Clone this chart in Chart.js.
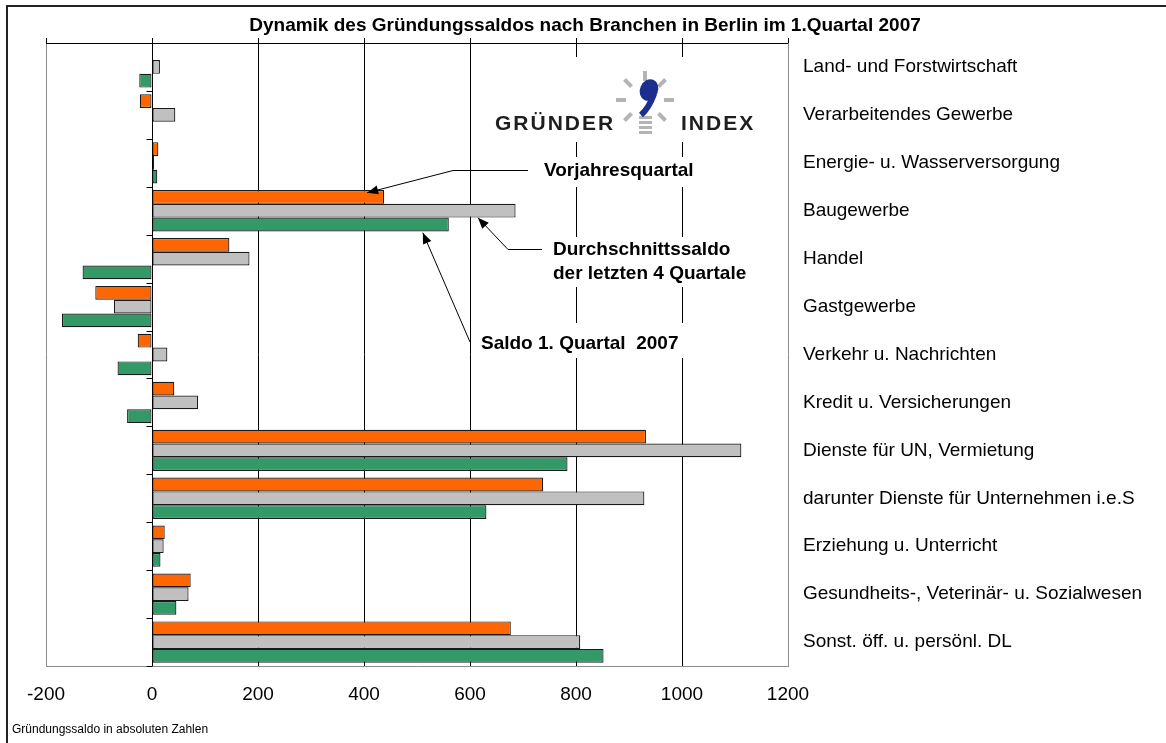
<!DOCTYPE html>
<html>
<head>
<meta charset="utf-8">
<script src="https://cdn.jsdelivr.net/npm/chart.js@4.4.0/dist/chart.umd.min.js"></script>
<style>
  html, body { margin: 0; padding: 0; background: #fff; }
  #wrap { width: 1166px; height: 743px; }
</style>
</head>
<body>
<div id="wrap"><canvas id="chart" width="1166" height="743"></canvas></div>
<script>
// categories (Branchen), top to bottom
const categories = [
    'Land- und Forstwirtschaft',
    'Verarbeitendes Gewerbe',
    'Energie- u. Wasserversorgung',
    'Baugewerbe',
    'Handel',
    'Gastgewerbe',
    'Verkehr u. Nachrichten',
    'Kredit u. Versicherungen',
    'Dienste für UN, Vermietung',
    'darunter Dienste für Unternehmen i.e.S',
    'Erziehung u. Unterricht',
    'Gesundheits-, Veterinär- u. Sozialwesen',
    'Sonst. öff. u. persönl. DL'
];

// values
const vorjahresquartal = [2, -23, 12, 438, 146, -107, -27, 42, 932, 738, 24, 73, 677];
const durchschnitt     = [15, 44, 4, 686, 184, -72, 29, 87, 1112, 929, 22, 69, 808];
const saldo2007        = [-24, 2, 10, 560, -131, -170, -65, -47, 784, 631, 16, 46, 852];

const xMin = -200;
const xMax = 1200;
const xStep = 200;

const titleText = 'Dynamik des Gründungssaldos nach Branchen in Berlin im 1.Quartal 2007';
const FONT = '"Liberation Sans", Arial, sans-serif';

function arrow(ctx, pts) {
    // polyline ending in a filled arrow head at the last point
    ctx.beginPath();
    ctx.moveTo(pts[0][0], pts[0][1]);
    for (let i = 1; i < pts.length; i++) ctx.lineTo(pts[i][0], pts[i][1]);
    ctx.stroke();
    const a = pts[pts.length - 2], b = pts[pts.length - 1];
    const ang = Math.atan2(b[1] - a[1], b[0] - a[0]);
    const len = 11, w = 4.5;
    ctx.beginPath();
    ctx.moveTo(b[0], b[1]);
    ctx.lineTo(b[0] - len * Math.cos(ang) + w * Math.sin(ang), b[1] - len * Math.sin(ang) - w * Math.cos(ang));
    ctx.lineTo(b[0] - len * Math.cos(ang) - w * Math.sin(ang), b[1] - len * Math.sin(ang) + w * Math.cos(ang));
    ctx.closePath();
    ctx.fill();
}

const decoPlugin = {
    id: 'deco',
    beforeDraw(chart) {
        const ctx = chart.ctx;
        ctx.save();
        ctx.fillStyle = '#fff';
        ctx.fillRect(0, 0, chart.width, chart.height);
        ctx.restore();
    },
    beforeDatasetsDraw(chart) {
        // white boxes of logo and labels hide the grid lines
        const ctx = chart.ctx;
        ctx.save();
        ctx.fillStyle = '#fff';
        ctx.fillRect(485, 57, 285, 85);
        ctx.fillRect(535, 157, 172, 30);
        ctx.fillRect(545, 237, 214, 50);
        ctx.fillRect(475, 323, 222, 35);
        ctx.restore();
    },
    afterDatasetsDraw(chart) {
        const ctx = chart.ctx;
        const area = chart.chartArea;
        const xs = chart.scales.x;
        const ys = chart.scales.y;
        const x0 = xs.getPixelForValue(0);
        ctx.save();

        // title
        ctx.fillStyle = '#000';
        ctx.font = 'bold 19px ' + FONT;
        ctx.textAlign = 'center';
        ctx.textBaseline = 'middle';
        ctx.fillText(titleText, 585, 26);

        // top axis line with small ticks
        ctx.strokeStyle = '#000';
        ctx.lineWidth = 1;
        ctx.beginPath();
        ctx.moveTo(area.left, area.top + 0.5);
        ctx.lineTo(area.right, area.top + 0.5);
        for (let v = xMin; v <= xMax; v += xStep) {
            const px = Math.round(xs.getPixelForValue(v)) + 0.5;
            ctx.moveTo(px, area.top - 5);
            ctx.lineTo(px, area.top);
        }
        ctx.stroke();

        // category axis at zero with tick marks between groups
        ctx.beginPath();
        const zx = Math.round(x0) + 0.5;
        ctx.moveTo(zx, area.top);
        ctx.lineTo(zx, area.bottom);
        for (let i = 0; i <= categories.length; i++) {
            const py = Math.round(ys.getPixelForValue(i - 0.5)) + 0.5;
            ctx.moveTo(zx - 6, py);
            ctx.lineTo(zx, py);
        }
        ctx.stroke();

        // logo
        ctx.textAlign = 'left';
        ctx.fillStyle = '#1e1e1e';
        ctx.font = 'bold 21px ' + FONT;
        ctx.letterSpacing = '2px';
        ctx.textBaseline = 'alphabetic';
        ctx.fillText('GRÜNDER', 495, 130);
        ctx.fillText('INDEX', 681, 130);
        ctx.letterSpacing = '0px';
        const cx = 645, cy = 100;
        ctx.strokeStyle = '#b4b4b4';
        ctx.lineWidth = 4;
        [-90, -135, -45, 180, 0, 135, 45].forEach(function (d) {
            const r = d * Math.PI / 180;
            ctx.beginPath();
            ctx.moveTo(cx + 19 * Math.cos(r), cy + 19 * Math.sin(r));
            ctx.lineTo(cx + 29 * Math.cos(r), cy + 29 * Math.sin(r));
            ctx.stroke();
        });
        ctx.fillStyle = '#b4b4b4';
        for (let k = 0; k < 4; k++) ctx.fillRect(639, 116 + k * 5, 13, 3);
        ctx.fillStyle = '#1c2f8f';
        ctx.beginPath();
        ctx.ellipse(649, 90, 9, 11, 0.4, 0, Math.PI * 2);
        ctx.fill();
        ctx.strokeStyle = '#1c2f8f';
        ctx.lineWidth = 6;
        ctx.beginPath();
        ctx.moveTo(654, 94);
        ctx.quadraticCurveTo(649, 108, 641, 115);
        ctx.stroke();

        // annotations
        ctx.fillStyle = '#000';
        ctx.strokeStyle = '#000';
        ctx.lineWidth = 1;
        ctx.font = 'bold 19px ' + FONT;
        ctx.textBaseline = 'middle';
        ctx.fillText('Vorjahresquartal', 544, 171);
        ctx.fillText('Durchschnittssaldo', 553, 250);
        ctx.fillText('der letzten 4 Quartale', 553, 274);
        ctx.fillText('Saldo 1. Quartal  2007', 481, 344);

        const yBau = ys.getPixelForValue(3);
        arrow(ctx, [[528, 170.5], [453, 170.5], [xs.getPixelForValue(406), yBau - 18]]);
        arrow(ctx, [[542, 249.5], [508, 249.5], [xs.getPixelForValue(615), yBau + 7]]);
        arrow(ctx, [[470, 342], [xs.getPixelForValue(511), yBau + 22]]);

        // outer frame
        ctx.lineWidth = 2;
        ctx.strokeStyle = '#222';
        ctx.strokeRect(7, 6, 1300, 900);

        // footer
        ctx.font = '12px ' + FONT;
        ctx.textBaseline = 'alphabetic';
        ctx.fillText('Gründungssaldo in absoluten Zahlen', 12, 733);
        ctx.restore();
    }
};

const ctx = document.getElementById('chart').getContext('2d');
const chart = new Chart(ctx, {
    type: 'bar',
    data: {
        labels: categories,
        datasets: [{
            label: 'Vorjahresquartal',
            data: vorjahresquartal,
            backgroundColor: '#FF6600'
        }, {
            label: 'Durchschnittssaldo der letzten 4 Quartale',
            data: durchschnitt,
            backgroundColor: '#C0C0C0'
        }, {
            label: 'Saldo 1. Quartal 2007',
            data: saldo2007,
            backgroundColor: '#339966'
        }]
    },
    options: {
        indexAxis: 'y',
        responsive: false,
        animation: false,
        datasets: {
            bar: {
                borderColor: '#1a1a1a',
                borderWidth: 1.2,
                borderSkipped: false,
                categoryPercentage: 0.862,
                barPercentage: 1.0
            }
        },
        layout: {
            padding: { left: 46, right: 0, top: 43, bottom: 0 }
        },
        scales: {
            x: {
                position: 'bottom',
                min: xMin,
                max: xMax,
                afterFit: function (scale) { scale.height = 77; },
                ticks: {
                    stepSize: xStep,
                    color: '#000',
                    padding: 17,
                    font: { family: FONT, size: 19 },
                    callback: function (v) { return String(v); }
                },
                grid: {
                    drawTicks: false,
                    lineWidth: 1,
                    color: function (c) {
                        const v = c.tick ? c.tick.value : null;
                        return (v === xMin || v === xMax) ? '#8c8c8c' : '#000';
                    }
                },
                border: { display: true, color: '#8c8c8c', width: 1 }
            },
            y: {
                position: 'right',
                afterFit: function (scale) { scale.width = 378; },
                ticks: {
                    autoSkip: false,
                    color: '#000',
                    padding: 15,
                    crossAlign: 'near',
                    font: { family: FONT, size: 19 }
                },
                grid: { display: false, drawTicks: false },
                border: { display: false }
            }
        },
        plugins: {
            legend: { display: false },
            tooltip: { enabled: false },
            title: { display: false }
        }
    },
    plugins: [decoPlugin]
});
</script>
</body>
</html>
